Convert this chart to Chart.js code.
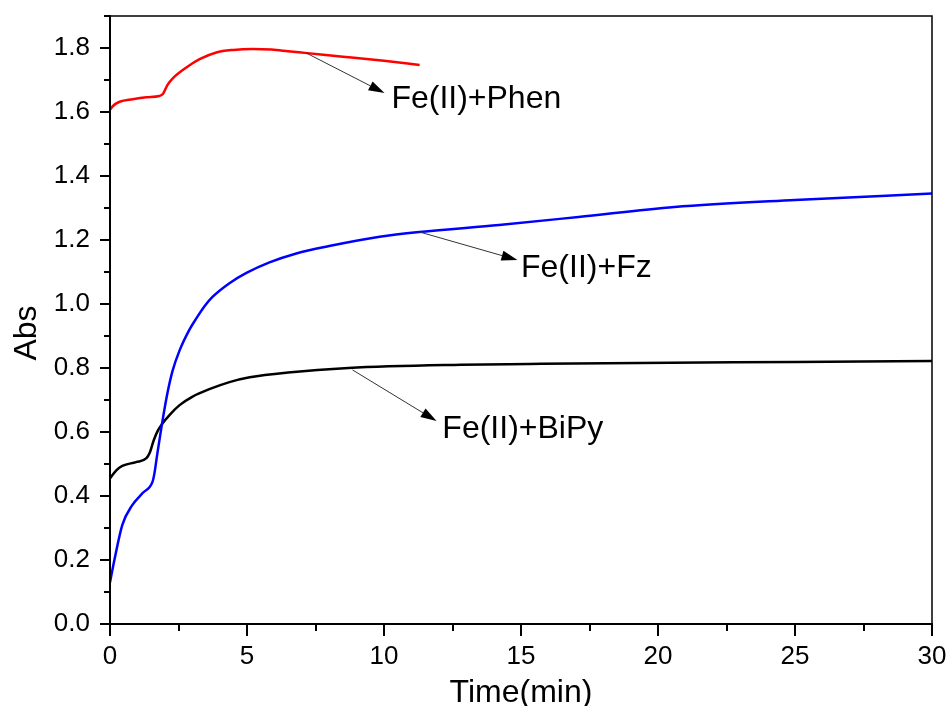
<!DOCTYPE html>
<html>
<head>
<meta charset="utf-8">
<script src="https://cdn.jsdelivr.net/npm/chart.js@4/dist/chart.umd.min.js"></script>
<style>
  html, body { margin: 0; padding: 0; background: #fff; }
  #wrap { width: 947px; height: 706px; }
</style>
</head>
<body>
<div id="wrap"><canvas id="chart" width="947" height="706"></canvas></div>
<script>
// absorbance vs time
var phenTime = [0, 0.1, 0.35, 0.83, 1.33, 1.8, 1.93, 2.1, 2.3, 2.8, 3.27, 3.88, 4.5, 5.2, 5.9, 6.5, 7.2, 8.5, 10, 11.3];
var phenAbs  = [1.607, 1.618, 1.632, 1.64, 1.646, 1.65, 1.656, 1.685, 1.706, 1.74, 1.765, 1.786, 1.794, 1.797, 1.795, 1.79, 1.784, 1.773, 1.76, 1.747];

var fzTime = [0, 0.16, 0.45, 0.8, 1.2, 1.55, 1.62, 1.73, 1.88, 2.07, 2.28, 2.54, 2.9, 3.15, 3.45, 3.74, 4.36, 4.98, 5.82, 6.8, 8.0, 9.84, 11.3, 14.2, 17.1, 20.6, 25, 30];
var fzAbs  = [0.13, 0.2, 0.31, 0.37, 0.41, 0.444, 0.47, 0.534, 0.616, 0.71, 0.79, 0.855, 0.92, 0.955, 0.993, 1.022, 1.065, 1.097, 1.13, 1.158, 1.181, 1.21, 1.225, 1.247, 1.272, 1.303, 1.325, 1.345];

var bipyTime = [0, 0.23, 0.45, 0.95, 1.33, 1.45, 1.6, 1.75, 1.9, 2.17, 2.54, 3.0, 3.6, 4.36, 5.1, 6.5, 8.7, 12.8, 15.3, 19.3, 25, 30];
var bipyAbs  = [0.455, 0.48, 0.494, 0.506, 0.518, 0.535, 0.575, 0.605, 0.625, 0.653, 0.684, 0.71, 0.733, 0.756, 0.771, 0.786, 0.80, 0.81, 0.8125, 0.816, 0.819, 0.822];

var seriesNames = ['Fe(II)+Phen', 'Fe(II)+Fz', 'Fe(II)+BiPy'];
var seriesColors = ['#ff0000', '#0000ff', '#000000'];

// arrow labels: [from t, from abs, tip t, tip abs, text t, text abs]
var labelArrows = [
    [7.17, 1.784, 10.02, 1.659, 10.27, 1.6125],
    [11.3, 1.225, 14.87, 1.1375, 15.0, 1.084],
    [8.85, 0.794, 11.92, 0.634, 12.13, 0.581]
];

var xTitle = 'Time(min)';
var yTitle = 'Abs';
var FONT = '"Liberation Sans", Arial, sans-serif';

function toPoints(xs, ys) {
    return xs.map(function (x, i) { return { x: x, y: ys[i] }; });
}

function isMajor(v, step) {
    var r = v / step;
    return Math.abs(r - Math.round(r)) < 1e-6;
}

var framePlugin = {
    id: 'frame',
    afterDraw: function (chart) {
        var ctx = chart.ctx;
        var a = chart.chartArea;
        var xs = chart.scales.x, ys = chart.scales.y;
        ctx.save();
        ctx.strokeStyle = '#000';

        // top / right frame
        ctx.lineWidth = 1.5;
        ctx.beginPath();
        ctx.moveTo(a.left, a.top); ctx.lineTo(a.right, a.top); ctx.lineTo(a.right, a.bottom);
        ctx.stroke();

        // left / bottom axes
        ctx.lineWidth = 2;
        ctx.beginPath();
        ctx.moveTo(a.left, a.top - 1); ctx.lineTo(a.left, a.bottom); ctx.lineTo(a.right + 1, a.bottom);
        ctx.stroke();

        // ticks
        ctx.lineWidth = 2;
        ctx.beginPath();
        xs.ticks.forEach(function (t) {
            var px = Math.round(xs.getPixelForValue(t.value));
            var len = isMajor(t.value, 5) ? 12 : 7;
            ctx.moveTo(px, a.bottom); ctx.lineTo(px, a.bottom + len);
        });
        ys.ticks.forEach(function (t) {
            var py = Math.round(ys.getPixelForValue(t.value));
            var len = isMajor(t.value, 0.2) ? 10 : 6;
            ctx.moveTo(a.left, py); ctx.lineTo(a.left - len, py);
        });
        ctx.stroke();

        // axis titles
        ctx.fillStyle = '#000';
        ctx.font = '32px ' + FONT;
        ctx.textAlign = 'center';
        ctx.textBaseline = 'alphabetic';
        ctx.fillText(xTitle, (a.left + a.right) / 2, 702);
        ctx.translate(36, (a.top + a.bottom) / 2 + 13);
        ctx.rotate(-Math.PI / 2);
        ctx.fillText(yTitle, 0, 0);
        ctx.restore();

        // arrows and series labels
        ctx.save();
        labelArrows.forEach(function (d, i) {
            var x0 = xs.getPixelForValue(d[0]), y0 = ys.getPixelForValue(d[1]);
            var x1 = xs.getPixelForValue(d[2]), y1 = ys.getPixelForValue(d[3]);
            var ang = Math.atan2(y1 - y0, x1 - x0);
            var head = 16, half = 5;
            var bx = x1 - head * Math.cos(ang), by = y1 - head * Math.sin(ang);
            ctx.strokeStyle = '#333';
            ctx.lineWidth = 1;
            ctx.beginPath();
            ctx.moveTo(x0, y0); ctx.lineTo(bx, by);
            ctx.stroke();
            ctx.fillStyle = '#000';
            ctx.beginPath();
            ctx.moveTo(x1, y1);
            ctx.lineTo(bx + half * Math.sin(ang), by - half * Math.cos(ang));
            ctx.lineTo(bx - half * Math.sin(ang), by + half * Math.cos(ang));
            ctx.closePath();
            ctx.fill();

            ctx.font = '32px ' + FONT;
            ctx.textAlign = 'left';
            ctx.textBaseline = 'alphabetic';
            ctx.fillText(seriesNames[i], xs.getPixelForValue(d[4]), ys.getPixelForValue(d[5]));
        });
        ctx.restore();
    }
};

function lineSet(name, xs, ys, color) {
    return {
        label: name,
        data: toPoints(xs, ys),
        borderColor: color,
        borderWidth: 2.5,
        pointRadius: 0,
        fill: false,
        cubicInterpolationMode: 'monotone'
    };
}

new Chart(document.getElementById('chart'), {
    type: 'line',
    data: {
        datasets: [
            lineSet(seriesNames[0], phenTime, phenAbs, seriesColors[0]),
            lineSet(seriesNames[1], fzTime, fzAbs, seriesColors[1]),
            lineSet(seriesNames[2], bipyTime, bipyAbs, seriesColors[2])
        ]
    },
    options: {
        responsive: false,
        animation: false,
        layout: { padding: { top: 16, right: 15, left: 0, bottom: 0 } },
        plugins: { legend: { display: false }, tooltip: { enabled: false } },
        scales: {
            x: {
                type: 'linear',
                min: 0,
                max: 30,
                afterFit: function (s) {
                    s.height = 82;
                    s.paddingLeft = 0; s.paddingRight = 0;
                },
                border: { display: false },
                grid: { drawOnChartArea: false, drawTicks: true, tickLength: 10, tickColor: 'rgba(0,0,0,0)' },
                ticks: {
                    stepSize: 2.5,
                    padding: 7,
                    maxRotation: 0,
                    autoSkip: false,
                    color: '#000',
                    font: { family: FONT, size: 26 },
                    callback: function (v) { return isMajor(v, 5) ? String(v) : ''; }
                }
            },
            y: {
                min: 0,
                max: 1.9,
                afterFit: function (s) {
                    s.width = 110;
                    s.paddingTop = 0; s.paddingBottom = 0;
                },
                border: { display: false },
                grid: { drawOnChartArea: false, drawTicks: true, tickLength: 10, tickColor: 'rgba(0,0,0,0)' },
                ticks: {
                    stepSize: 0.1,
                    padding: 10,
                    autoSkip: false,
                    color: '#000',
                    font: { family: FONT, size: 26 },
                    callback: function (v) { return isMajor(v, 0.2) ? v.toFixed(1) : ''; }
                }
            }
        }
    },
    plugins: [framePlugin]
});
</script>
</body>
</html>
